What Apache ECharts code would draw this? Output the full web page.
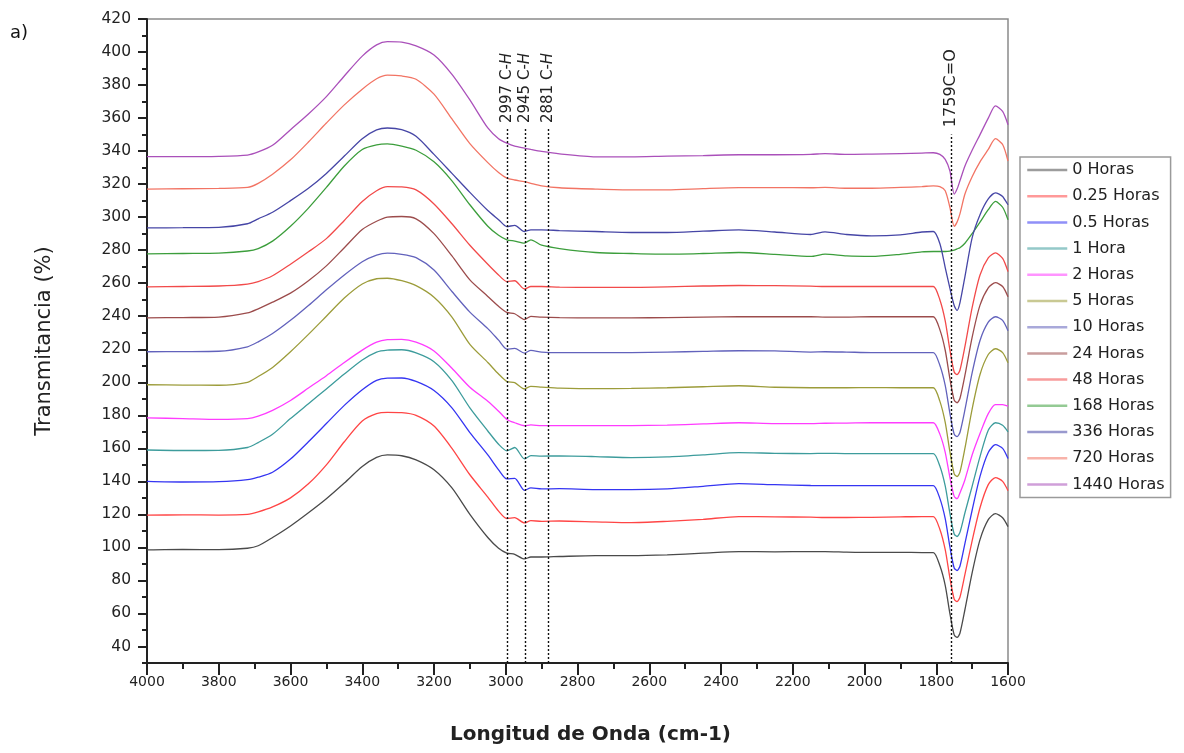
<!DOCTYPE html>
<html><head><meta charset="utf-8">
<script src="https://cdn.jsdelivr.net/npm/echarts@6/dist/echarts.min.js"></script>
<style>html,body{margin:0;padding:0;background:#fff}#c{width:1184px;height:753px}</style>
</head><body><div id="c"></div>
<script>
// ---- data ----
const wavenumber = [4000,3900,3800,3720,3690,3650,3600,3550,3500,3450,3400,3360,3330,3290,3250,3200,3150,3100,3050,3020,2997,2975,2948,2930,2900,2850,2750,2650,2550,2450,2350,2250,2150,2110,2050,1980,1900,1840,1808,1790,1775,1762,1750,1742,1734,1720,1700,1678,1655,1635,1615,1600];

const h0    = [98.5,98.8,98.6,99.5,101,106,113,121,129.5,139,149,154.5,156,155.5,153,147,136,120,106,99.5,96.6,95.8,93,94.2,94.2,94.5,95,95,95.5,96.5,97.5,97.3,97.5,97.5,97.2,97,97,96.9,96.9,89,77,60,47,45.5,48,62.4,84.6,104.7,116.8,120.5,118,112.6];
const h025  = [119.5,119.7,119.6,120,121.5,124.5,130,138.5,150,164,176.5,181,181.8,181.6,180,173.5,160,144,130.5,122,117.5,118,114.8,116.2,115.8,116,115.5,115,115.8,117,118.7,118.5,118.3,118.1,118.1,118.2,118.5,118.7,118.7,111,98.6,81.6,68.7,67.2,69.8,83.7,104,124,138,142.3,140,134.4];
const h05   = [140,139.6,139.8,141,142.5,145.5,153.5,164,175,186,195.5,201.2,202.5,202.6,200.5,195,184.5,169.5,156,147,141.5,141.8,134.6,136,135.4,135.6,135,135,135.5,137,138.6,138,137.5,137.4,137.4,137.4,137.4,137.4,137.4,129.7,117.4,100.4,87.5,86,88.6,102.5,122.5,143,157.5,162.2,160,153.8];
const h1    = [159,158.7,158.8,160.5,163.5,168.5,178,187,196,205,213.5,218.3,219.5,219.7,217.8,212.5,201,184.5,170.5,162.5,158.5,160.5,153.6,155.6,155.3,155.4,155,154.4,154.8,156,157.4,157,156.8,157,156.8,156.8,156.8,156.8,156.8,149.3,137.2,120.7,108.1,106.6,109.1,121,137,155,171,175.5,174,170];
const h2    = [178.5,178,177.5,178,179.5,183,189,196.5,204,212,219.5,224.3,225.8,226,224.3,219,208.5,197,188.5,182.5,177.5,175.5,173.7,174.2,173.7,173.7,173.7,173.7,174,174.8,175.5,175,175,175.2,175.3,175.5,175.5,175.5,175.5,168.6,157.6,142.4,130.9,129.5,133,141,156,169,181,186.5,186.5,185.5];
const h5    = [198.5,198.3,198.2,200,203.5,209,218.5,229,240,251,259.5,262.7,263,261.5,258.5,251.5,239.5,223,212,205,200.5,199.8,196,197.5,197.1,196.5,196.1,196.3,196.7,197.3,197.9,197,196.7,196.7,196.7,196.8,196.7,196.7,196.7,188.6,175.7,158,144.5,142.9,145.6,160.1,183.8,204.7,216.8,220.3,218,211.8];
const h10   = [218.5,218.6,218.8,221.5,224.5,229.5,237.5,246.5,256,265,273,277,278.2,277.5,275.5,268,255,242.5,232.5,225.5,220.1,220.5,217.7,219.3,218.3,217.9,217.9,218,218.3,218.7,219.1,219,218.3,218.5,218.3,218,218,217.9,217.9,210.3,198.1,181.3,168.6,167.1,169.6,183.4,205.7,225.3,236.4,239.7,237.5,231.2];
const h24   = [239,239.2,239.5,242,244.5,248.5,254,261.5,270.5,281.5,292.5,297.5,300,300.4,299,290,276.5,262,252,246,242.3,241.5,238,239.9,239.4,239.1,239,239,239.2,239.5,239.7,239.7,239.7,239.5,239.5,239.7,239.7,239.7,239.7,231.9,219.4,202.2,189.2,187.6,190.2,204.3,227.2,246.7,257.2,260.3,258,251.8];
const h48   = [257.8,258,258.3,259.5,261,264.5,271.5,279,287,298,309.5,316,318.5,318.3,316.5,308,296,283,271.5,265,261,261.5,256.5,258,258,257.6,257.5,257.5,257.8,258.3,258.6,258.5,258.2,258,258,258,258,258,258,250,237.2,219.6,206.2,204.6,207.3,221.7,245.2,265,275.3,278.4,275,267];
const h168  = [277.8,278,278.2,279.5,281,285.5,294.5,305.5,318,331,341,343.8,344.4,343,340.5,333.5,322,307.5,294.5,289,286.3,285.5,284.3,286.3,283,281,278.6,278,277.6,278,278.6,277.5,276.2,277.6,276.5,276.2,277.5,279,279.2,279.2,279.2,279.4,280,280.8,281.5,284.2,290,297,304.5,309.5,306,298.4];
const h336  = [293.5,293.6,293.8,296,299,303,310,317.5,326.5,337,347.5,352.8,354,353,349,338,326.5,315,304,298.5,294.3,295,291.3,292.3,292.3,291.9,291.3,290.7,290.7,291.5,292.3,291,289.5,291.1,289.5,288.7,289.3,291,291.3,284,269.5,257,246.5,243.5,248.1,264,287.5,301.5,311,314.7,312.5,307.5];
const h720  = [317,317.2,317.4,318,320.5,326,334.7,345.5,357,368,377.5,383.8,386,385.5,383.5,374.5,359.5,344.5,333,327,323.6,322.5,321.5,320.5,319,317.8,317,316.5,316.5,317.3,317.9,317.9,317.8,318,317.5,317.5,318,318.5,319,318.5,316,306,294.5,297,302,314,324.5,333.5,341,347.5,344,334];
const h1440 = [336.6,336.6,336.8,337.6,339.5,343.5,353,362.5,373,385.5,397.5,404.3,406.3,406,403.7,398.2,386.5,371,354,347.5,344.8,343,341.8,341,339.8,338.3,336.5,336.5,337,337.3,337.8,337.8,338,338.5,338,338.2,338.5,338.8,339,338,335,328,314,317,322,331,340.5,350,360,367.4,364,356];

const seriesNames = ['0 Horas','0.25 Horas','0.5 Horas','1 Hora','2 Horas','5 Horas','10 Horas','24 Horas','48 Horas','168 Horas','336 Horas','720 Horas','1440 Horas'];
const seriesValues = [h0,h025,h05,h1,h2,h5,h10,h24,h48,h168,h336,h720,h1440];
const seriesColors = ['#4a4a4a','#ff4545','#3535f2','#3d9c9c','#ff3cff','#9c9c3a','#6262bc','#9c4c4c','#f24a4a','#3c9e3c','#4646a6','#f27464','#aa50ba'];

const yTickLabels = [40,60,80,100,120,140,160,180,200,220,240,260,280,300,320,340,360,380,400,420];
const yMinorTicks = [30,50,70,90,110,130,150,170,190,210,230,250,270,290,310,330,350,370,390,410];

// vertical band markers: wavenumber, top of dotted line, label
const annotations = [
  {wn:2997, top:354, labelAt:357, text:'2997 C-{it|H}'},
  {wn:2945, top:354, labelAt:357, text:'2945 C-{it|H}'},
  {wn:2881, top:354, labelAt:357, text:'2881 C-{it|H}'},
  {wn:1759, top:350, labelAt:354.5, text:'1759C=O'}
];

// ---- chart ----
const FONT = 'DejaVu Sans';
const chart = echarts.init(document.getElementById('c'));
const axisCol = '#222';

const series = seriesNames.map((n,k)=>({
  name:n, type:'line', symbol:'none', showSymbol:false, smooth:0.25,
  data: wavenumber.map((w,i)=>[w, seriesValues[k][i]]),
  lineStyle:{width:1.3, color:seriesColors[k]},
  itemStyle:{color:seriesColors[k]},
  emphasis:{disabled:true}
}));

series.push({
  name:'annot', type:'line', data:[], silent:true,
  markLine:{
    silent:true, symbol:['none','none'], animation:false,
    label:{show:false},
    lineStyle:{type:[2,2], color:'#111', width:1.4},
    data: annotations.map(a=>[{coord:[a.wn,30]},{coord:[a.wn,a.top]}])
  },
  markPoint:{
    silent:true, symbol:'circle', symbolSize:0, animation:false,
    label:{show:true, position:'inside', rotate:90, align:'left', verticalAlign:'middle',
      fontFamily:FONT, fontSize:15, color:'#222',
      rich:{it:{fontStyle:'italic', fontFamily:FONT, fontSize:15, color:'#222'}}},
    data: annotations.map(a=>({coord:[a.wn,a.labelAt], label:{formatter:a.text, fontSize: a.wn===1759?16:15}}))
  }
});

chart.setOption({
  animation:false,
  backgroundColor:'#fff',
  textStyle:{fontFamily:FONT},
  grid:{left:147, right:176, top:19, bottom:90, show:true, borderColor:'#8a8a8a', borderWidth:1.5, backgroundColor:'transparent'},
  graphic:[{type:'text', left:10, top:24, style:{text:'a)', font:'18px "DejaVu Sans"', fill:'#111'}}],
  legend:{
    orient:'vertical', left:1020, top:157, data:seriesNames,
    itemWidth:40, itemHeight:14, itemGap:10.2, padding:[5,6,5,6],
    borderColor:'#9a9a9a', borderWidth:1.5,
    itemStyle:{opacity:0},
    lineStyle:{width:2.5, opacity:0.55},
    textStyle:{fontFamily:FONT, fontSize:16, color:'#222'}
  },
  xAxis:{
    type:'value', inverse:true, min:1600, max:4000, interval:200,
    axisLine:{onZero:false, lineStyle:{color:axisCol, width:2}},
    axisTick:{length:12, lineStyle:{color:axisCol, width:2}},
    minorTick:{show:true, splitNumber:2, length:6, lineStyle:{color:axisCol, width:2}},
    axisLabel:{margin:12, fontFamily:FONT, fontSize:14, color:'#222', formatter:(v)=>String(v)},
    splitLine:{show:false},
    name:'Longitud de Onda (cm-1)', nameLocation:'middle', nameGap:62,
    nameTextStyle:{fontFamily:FONT, fontWeight:'bold', fontSize:20, color:'#222', padding:[0,0,0,26]}
  },
  yAxis:[{
    type:'value', min:30, max:420, interval:10, position:'left',
    axisLine:{show:true, onZero:false, lineStyle:{color:axisCol, width:2}},
    axisTick:{show:true, length:9, customValues:yTickLabels, lineStyle:{color:axisCol, width:2}},
    axisLabel:{customValues:yTickLabels, margin:16, fontFamily:FONT, fontSize:15.5, color:'#222'},
    splitLine:{show:false},
    name:'Transmitancia (%)', nameLocation:'middle', nameGap:92,
    nameTextStyle:{fontFamily:FONT, fontSize:21, color:'#222'}
  },{
    type:'value', min:30, max:420, interval:10, position:'left', offset:0,
    axisLine:{show:false},
    axisTick:{show:true, length:5, customValues:yMinorTicks, lineStyle:{color:axisCol, width:2}},
    axisLabel:{show:false}, splitLine:{show:false}
  }],
  series: series
});
</script></body></html>
